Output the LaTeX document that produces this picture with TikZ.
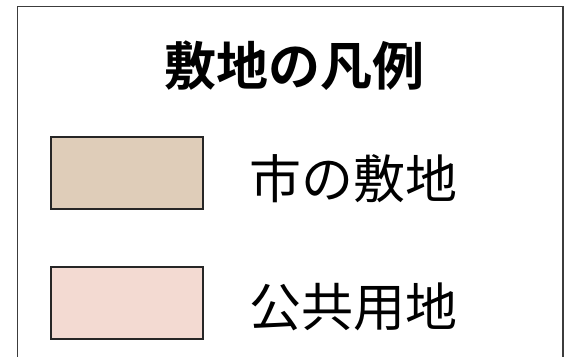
\documentclass[tikz,border=0pt]{standalone}
\usepackage{fontspec}
\newfontfamily\jp{Noto Sans CJK JP}
\newfontfamily\jpb{Noto Sans CJK JP Bold}
\definecolor{cityland}{RGB}{223,205,185}
\definecolor{publicland}{RGB}{243,218,210}
\definecolor{framegray}{RGB}{60,60,60}
\begin{document}
\begin{tikzpicture}[x=1pt,y=-1pt,
  swatch/.style={draw=black!85,line width=1.3pt,minimum width=152pt,minimum height=72pt,inner sep=0pt},
  lbl/.style={font=\jp\fontsize{52}{52}\selectfont,inner sep=0pt,anchor=west},
  ttl/.style={font=\jpb\fontsize{52}{52}\selectfont,inner sep=0pt}]
\useasboundingbox (0,0) rectangle (572,356);
\draw[framegray,line width=1.3pt] (17.5,360) -- (17.5,6.5) -- (563,6.5) -- (563,360);
\node[ttl] (title) at (294,66) {敷地の凡例};
\node[swatch,fill=cityland] (sw1) at (127,173) {};
\node[swatch,fill=publicland] (sw2) at (127,303) {};
\node[lbl] (l1) at (249,179) {市の敷地};
\node[lbl] (l2) at (249,307) {公共用地};
\end{tikzpicture}
\end{document}
